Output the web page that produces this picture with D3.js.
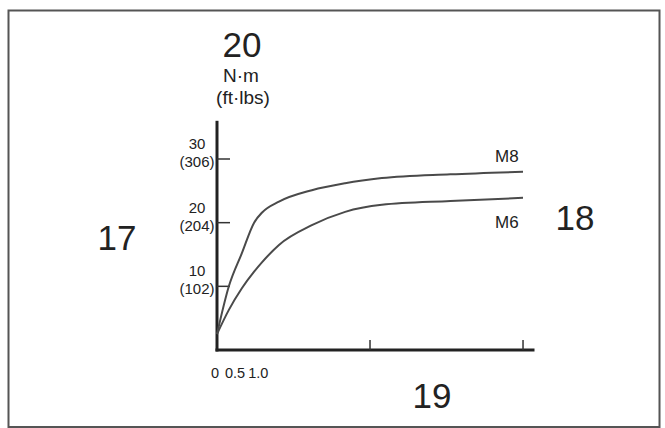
<!DOCTYPE html>
<html>
<head>
<meta charset="utf-8">
<script src="https://cdn.jsdelivr.net/npm/d3@7"></script>
<style>
  html, body { margin: 0; padding: 0; background: #fff; }
  svg { display: block; }
  text { font-family: "Liberation Sans", Arial, sans-serif; fill: #222; }
</style>
</head>
<body>
<svg id="chart" width="665" height="428"></svg>
<script>
// ---- data ----
const xValues = [0, 0.31, 0.65, 0.97, 1.18, 1.62, 2.48, 3.35, 4.31, 6.1, 8.0];
const m8Values = [2.5, 10.0, 15.2, 20.0, 21.6, 23.3, 25.1, 26.2, 27.0, 27.6, 28.0];
const m6Values = [2.5, 6.3, 9.7, 12.3, 13.8, 16.5, 19.6, 21.7, 22.8, 23.4, 23.9];
const seriesNames = ["M8", "M6"];
const yTickValues = [10, 20, 30];
const yTickLabelsNm = ["10", "20", "30"];
const yTickLabelsFt = ["(102)", "(204)", "(306)"];
const xTickMarks = [4, 8];
const xLabelValues = [0, 0.5, 1.0];
const xLabelTexts = ["0", "0.5", "1.0"];
const unitLines = ["N·m", "(ft·lbs)"];
const callouts = ["17", "18", "19", "20"];

const svg = d3.select("#chart");

// frame
svg.append("rect")
  .attr("x", 8.5).attr("y", 10.5).attr("width", 651).attr("height", 416.5)
  .attr("fill", "none").attr("stroke", "#555").attr("stroke-width", 2);

const x = d3.scaleLinear().domain([0, 8.3]).range([217, 534.5]);
const y = d3.scaleLinear().domain([0, 36]).range([350, 120.8]);

const g = svg.append("g");

// y axis line
g.append("line")
  .attr("x1", x(0)).attr("x2", x(0))
  .attr("y1", y(36)).attr("y2", y(0) + 1.5)
  .attr("stroke", "#222").attr("stroke-width", 3);
// x axis line
g.append("line")
  .attr("x1", x(0) - 1.5).attr("x2", x(8.3))
  .attr("y1", y(0)).attr("y2", y(0))
  .attr("stroke", "#222").attr("stroke-width", 3);

// y ticks (inward)
g.selectAll(".ytick").data(yTickValues).join("line")
  .attr("x1", x(0)).attr("x2", x(0) + 13)
  .attr("y1", d => y(d)).attr("y2", d => y(d))
  .attr("stroke", "#333").attr("stroke-width", 1.5);
g.selectAll(".ylab1").data(yTickValues).join("text")
  .attr("x", 197).attr("y", d => y(d) - 10)
  .attr("text-anchor", "middle").attr("font-size", 15)
  .text((d, i) => yTickLabelsNm[i]);
g.selectAll(".ylab2").data(yTickValues).join("text")
  .attr("x", 197).attr("y", d => y(d) + 8)
  .attr("text-anchor", "middle").attr("font-size", 15)
  .text((d, i) => yTickLabelsFt[i]);

// x ticks (upward)
g.selectAll(".xtick").data(xTickMarks).join("line")
  .attr("x1", d => x(d)).attr("x2", d => x(d))
  .attr("y1", y(0)).attr("y2", y(0) - 10)
  .attr("stroke", "#333").attr("stroke-width", 1.5);
g.selectAll(".xlab").data(xLabelValues).join("text")
  .attr("x", d => x(d) - 2 + (d >= 1 ? 5 : d * 2))
  .attr("y", 378)
  .attr("text-anchor", "middle").attr("font-size", 14.5)
  .text((d, i) => xLabelTexts[i]);

// curves
const line = d3.line()
  .x((d, i) => x(xValues[i]))
  .y(d => y(d))
  .curve(d3.curveMonotoneX);
[m8Values, m6Values].forEach(vals => {
  g.append("path").datum(vals)
    .attr("d", line)
    .attr("fill", "none").attr("stroke", "#4a4a4a").attr("stroke-width", 2);
});

// series labels
g.append("text").attr("x", 495).attr("y", 162).attr("font-size", 17).text(seriesNames[0]);
g.append("text").attr("x", 495).attr("y", 228).attr("font-size", 17).text(seriesNames[1]);

// unit labels
g.append("text").attr("x", 241).attr("y", 82).attr("text-anchor", "middle").attr("font-size", 19).text(unitLines[0]);
g.append("text").attr("x", 243).attr("y", 104).attr("text-anchor", "middle").attr("font-size", 19).text(unitLines[1]);

// callout numbers
const calloutPos = [[117, 250], [575, 230], [432, 408], [242, 57]];
g.selectAll(".callout").data(callouts).join("text")
  .attr("x", (d, i) => calloutPos[i][0]).attr("y", (d, i) => calloutPos[i][1])
  .attr("text-anchor", "middle").attr("font-size", 35)
  .text(d => d);
</script>
</body>
</html>
